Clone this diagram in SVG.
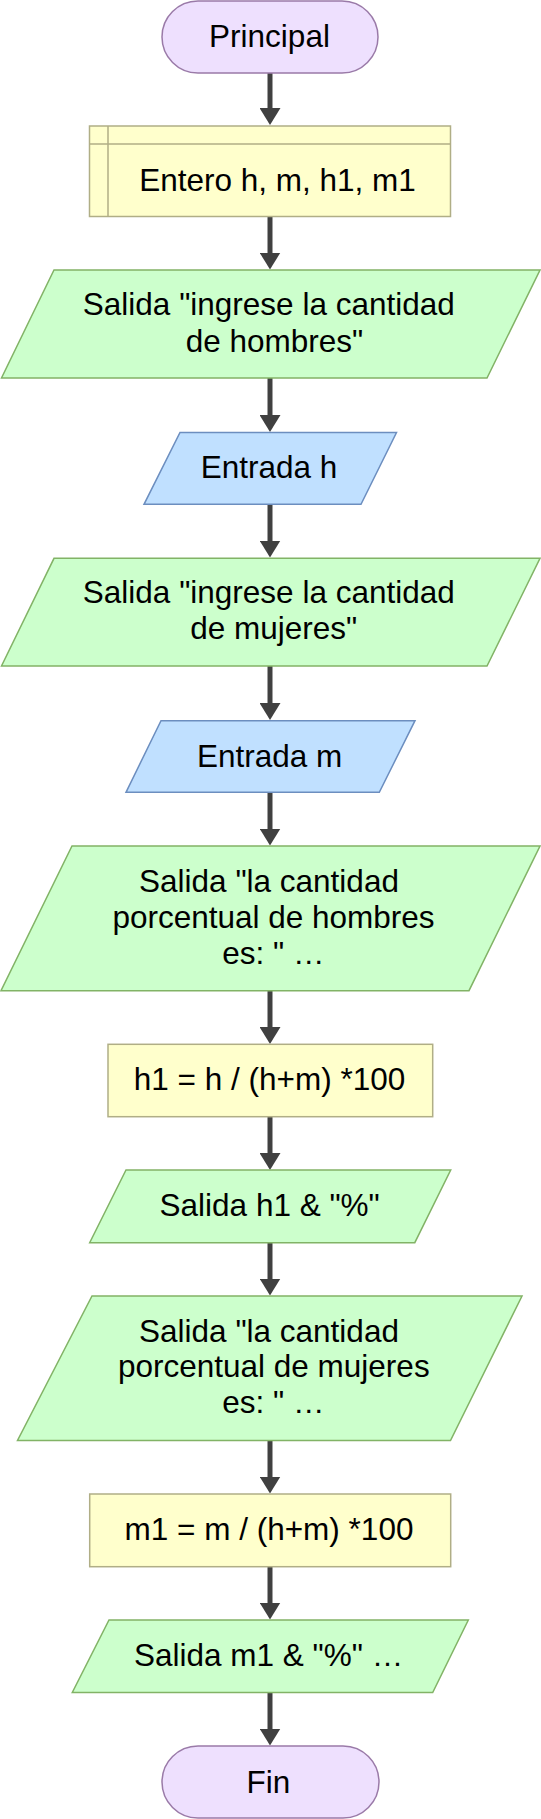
<svg xmlns="http://www.w3.org/2000/svg" width="541" height="1819" viewBox="0 0 541 1819">
<style>
.t{font-family:"Liberation Sans",Arial,sans-serif;font-size:31.5px;fill:#000;text-anchor:middle}
.term{fill:#eee0fe;stroke:#9a7aa8;stroke-width:1.5}
.proc{fill:#ffffcc;stroke:#b0ae86;stroke-width:1.5}
.out{fill:#ccffcc;stroke:#82b366;stroke-width:1.5}
.inp{fill:#c0e0ff;stroke:#6c8ebf;stroke-width:1.5}
.c{stroke:#404040;stroke-width:5;fill:none;marker-end:url(#ah)}
</style>
<defs>
<marker id="ah" markerUnits="userSpaceOnUse" markerWidth="17" markerHeight="21" viewBox="0 0 17 21" refX="7" refY="10.5" orient="auto">
<path d="M0,0 L17,10.5 L0,21 z" fill="#404040"/>
</marker>
</defs>
<g id="connectors">
<line class="c" x1="270" y1="73" x2="270" y2="115"/>
<line class="c" x1="270" y1="216.5" x2="270" y2="259.5"/>
<line class="c" x1="270" y1="378" x2="270" y2="422"/>
<line class="c" x1="270" y1="504.3" x2="270" y2="547.5"/>
<line class="c" x1="270" y1="666" x2="270" y2="710"/>
<line class="c" x1="270" y1="792.3" x2="270" y2="835.5"/>
<line class="c" x1="270" y1="990.7" x2="270" y2="1034"/>
<line class="c" x1="270" y1="1116.7" x2="270" y2="1160"/>
<line class="c" x1="270" y1="1242.7" x2="270" y2="1285.5"/>
<line class="c" x1="270" y1="1440.5" x2="270" y2="1483.5"/>
<line class="c" x1="270" y1="1566.7" x2="270" y2="1609.5"/>
<line class="c" x1="270" y1="1692.5" x2="270" y2="1735.5"/>
</g>
<g id="principal">
<rect class="term" x="162" y="1" width="216" height="72" rx="36"/>
<text class="t" x="269.5" y="46.7">Principal</text>
</g>
<g id="entero">
<rect class="proc" x="89.5" y="126" width="361" height="90.5"/>
<line class="proc" x1="108" y1="126" x2="108" y2="216.5"/>
<line class="proc" x1="89.5" y1="144" x2="450.5" y2="144"/>
<text class="t" x="277.5" y="190.7">Entero h, m, h1, m1</text>
</g>
<g id="salida1">
<polygon class="out" points="54,270 540,270 487,378 1.5,378"/>
<text class="t" x="268.8" y="315">Salida "ingrese la cantidad</text>
<text class="t" x="274.5" y="351.7">de hombres"</text>
</g>
<g id="entradah">
<polygon class="inp" points="180,432.5 396.5,432.5 361,504.3 144,504.3"/>
<text class="t" x="269" y="478.3">Entrada h</text>
</g>
<g id="salida2">
<polygon class="out" points="54,558.3 540,558.3 487,666 1.5,666"/>
<text class="t" x="268.8" y="603.3">Salida "ingrese la cantidad</text>
<text class="t" x="273.7" y="639.3">de mujeres"</text>
</g>
<g id="entradam">
<polygon class="inp" points="161,720.7 415,720.7 379.3,792.3 126,792.3"/>
<text class="t" x="269.7" y="766.7">Entrada m</text>
</g>
<g id="salida3">
<polygon class="out" points="72,846 540,846 469,990.7 1,990.7"/>
<text class="t" x="269" y="891.7">Salida "la cantidad</text>
<text class="t" x="273.5" y="928.3">porcentual de hombres</text>
<text class="t" x="273.4" y="964">es: " …</text>
</g>
<g id="calch1">
<rect class="proc" x="108" y="1044.3" width="324.7" height="72.4"/>
<text class="t" x="269.5" y="1090">h1 = h / (h+m) *100</text>
</g>
<g id="salidah1">
<polygon class="out" points="126,1170 450.7,1170 414.8,1242.7 89.7,1242.7"/>
<text class="t" x="269.7" y="1216">Salida h1 &amp; "%"</text>
</g>
<g id="salida4">
<polygon class="out" points="92,1296 522,1296 450.5,1440.5 17.5,1440.5"/>
<text class="t" x="269" y="1341.7">Salida "la cantidad</text>
<text class="t" x="273.8" y="1377.3">porcentual de mujeres</text>
<text class="t" x="273.4" y="1413.3">es: " …</text>
</g>
<g id="calcm1">
<rect class="proc" x="89.7" y="1494" width="361" height="72.7"/>
<text class="t" x="269" y="1540">m1 = m / (h+m) *100</text>
</g>
<g id="salidam1">
<polygon class="out" points="109,1620 468.3,1620 432.7,1692.5 72.3,1692.5"/>
<text class="t" x="268.6" y="1666">Salida m1 &amp; "%" …</text>
</g>
<g id="fin">
<rect class="term" x="162" y="1746" width="217" height="72" rx="36"/>
<text class="t" x="268.3" y="1793">Fin</text>
</g>
</svg>
